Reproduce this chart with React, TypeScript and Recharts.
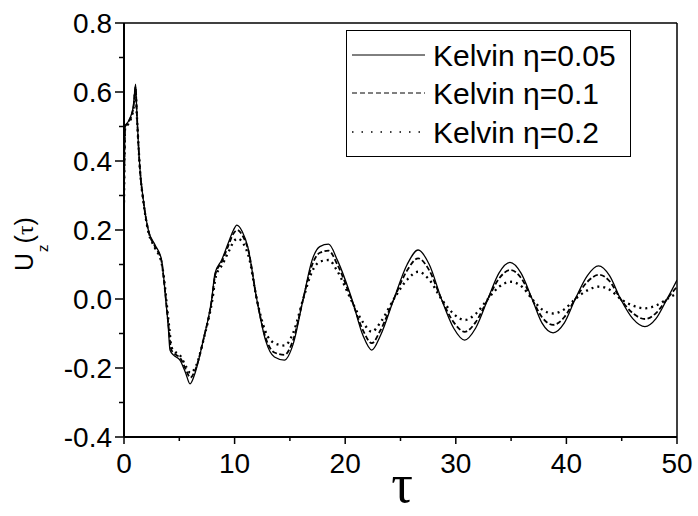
import React from 'react';
import { LineChart, Line, XAxis, YAxis, ReferenceLine, Legend } from 'recharts';

// ---- data ----
const tau005 = [0, 0.1, 0.4, 0.85, 1.05, 1.15, 1.3, 1.45, 1.75, 2.2, 2.8, 3.4, 3.55, 3.77, 4.0, 4.16, 4.46, 5.06, 5.58, 5.97, 6.42, 7.17, 7.93, 8.23, 8.83, 9.4, 9.9, 10.2, 10.7, 11.2, 12.0, 12.8, 13.6, 14.5, 15.3, 16.2, 17.0, 17.7, 18.5, 19.3, 20.6, 21.6, 22.4, 23.2, 24.4, 25.6, 26.6, 27.6, 28.7, 29.8, 30.8, 31.8, 32.9, 33.9, 34.9, 35.9, 36.9, 37.8, 38.8, 39.8, 40.8, 41.9, 42.9, 43.9, 44.9, 46.0, 47.1, 48.1, 49.1, 50];
const u005 = [0.28, 0.5, 0.515, 0.56, 0.623, 0.55, 0.45, 0.375, 0.287, 0.2, 0.157, 0.113, 0.075, 0.0, -0.08, -0.148, -0.162, -0.177, -0.215, -0.246, -0.215, -0.119, 0.0, 0.075, 0.113, 0.16, 0.2, 0.214, 0.195, 0.15, 0.0, -0.12, -0.168, -0.177, -0.13, 0.0, 0.112, 0.152, 0.159, 0.112, 0.0, -0.105, -0.148, -0.105, 0.0, 0.1, 0.142, 0.1, 0.0, -0.084, -0.119, -0.084, 0.0, 0.075, 0.106, 0.075, 0.0, -0.07, -0.098, -0.07, 0.0, 0.068, 0.096, 0.068, 0.0, -0.057, -0.08, -0.057, 0.0, 0.055];

const tau01 = [0, 0.1, 0.4, 0.85, 1.05, 1.15, 1.3, 1.45, 1.75, 2.2, 2.8, 3.4, 3.55, 3.8, 4.05, 4.25, 4.55, 5.1, 5.6, 6.0, 6.45, 7.2, 7.95, 8.25, 8.85, 9.4, 9.9, 10.25, 10.75, 11.25, 12.0, 12.8, 13.6, 14.5, 15.3, 16.2, 17.0, 17.7, 18.5, 19.3, 20.55, 21.6, 22.4, 23.2, 24.4, 25.6, 26.6, 27.6, 28.7, 29.8, 30.8, 31.8, 32.9, 33.9, 34.95, 35.95, 36.9, 37.8, 38.8, 39.8, 40.8, 41.9, 42.95, 43.95, 44.9, 46.0, 47.1, 48.1, 49.1, 50];
const u01 = [0.28, 0.5, 0.512, 0.555, 0.615, 0.545, 0.45, 0.372, 0.285, 0.198, 0.152, 0.108, 0.07, -0.005, -0.085, -0.145, -0.158, -0.172, -0.205, -0.228, -0.205, -0.115, 0.0, 0.07, 0.108, 0.152, 0.19, 0.2, 0.182, 0.14, 0.0, -0.112, -0.155, -0.162, -0.118, 0.0, 0.098, 0.134, 0.14, 0.099, 0.0, -0.09, -0.128, -0.09, 0.0, 0.083, 0.118, 0.083, 0.0, -0.067, -0.095, -0.067, 0.0, 0.059, 0.084, 0.059, 0.0, -0.053, -0.075, -0.053, 0.0, 0.05, 0.07, 0.05, 0.0, -0.041, -0.058, -0.041, 0.0, 0.036];

const tau02 = [0, 0.1, 0.4, 0.85, 1.05, 1.15, 1.3, 1.45, 1.75, 2.2, 2.8, 3.4, 3.6, 3.85, 4.1, 4.3, 4.6, 5.1, 5.6, 6.0, 6.5, 7.25, 8.0, 8.3, 8.9, 9.5, 10.0, 10.3, 10.8, 11.3, 12.0, 12.8, 13.6, 14.5, 15.3, 16.2, 17.0, 17.7, 18.5, 19.3, 20.5, 21.6, 22.4, 23.2, 24.4, 25.6, 26.6, 27.6, 28.7, 29.8, 30.8, 31.8, 32.9, 33.9, 35.0, 36.0, 36.9, 37.8, 38.8, 39.8, 40.8, 41.9, 43.0, 44.0, 44.9, 46.0, 47.1, 48.1, 49.1, 50];
const u02 = [0.28, 0.495, 0.508, 0.55, 0.6, 0.54, 0.45, 0.372, 0.283, 0.195, 0.148, 0.104, 0.065, -0.01, -0.085, -0.14, -0.152, -0.165, -0.195, -0.214, -0.195, -0.11, 0.0, 0.065, 0.1, 0.14, 0.17, 0.175, 0.16, 0.12, 0.0, -0.095, -0.128, -0.135, -0.098, 0.0, 0.079, 0.108, 0.113, 0.08, 0.0, -0.067, -0.095, -0.067, 0.0, 0.056, 0.079, 0.056, 0.0, -0.043, -0.061, -0.043, 0.0, 0.035, 0.05, 0.035, 0.0, -0.03, -0.042, -0.03, 0.0, 0.025, 0.036, 0.025, 0.0, -0.019, -0.027, -0.019, 0.0, 0.017];

const xTicks = [0, 5, 10, 15, 20, 25, 30, 35, 40, 45, 50];
const yTicks = [-0.4, -0.3, -0.2, -0.1, 0, 0.1, 0.2, 0.3, 0.4, 0.5, 0.6, 0.7, 0.8];
const seriesNames = ['Kelvin \u03b7=0.05', 'Kelvin \u03b7=0.1', 'Kelvin \u03b7=0.2'];

const zip = (t: number[], u: number[]) => t.map((x, i) => ({ t: x, u: u[i] }));
const data005 = zip(tau005, u005);
const data01 = zip(tau01, u01);
const data02 = zip(tau02, u02);

const FONT = '"Liberation Sans", Arial, Helvetica, sans-serif';
const SERIF = '"Liberation Serif", "Times New Roman", serif';

const YTick = (props: any) => {
  const { x, y, payload } = props;
  const v = payload.value as number;
  const major = Math.round(v * 10) % 2 === 0;
  return (
    <g>
      <line x1={x} x2={x - (major ? 9 : 5)} y1={y} y2={y} stroke="#000" strokeWidth={1.5} />
      {major && (
        <text x={x - 12} y={y} dy="0.36em" textAnchor="end" fontSize={28} fontFamily={FONT} fill="#000">
          {v.toFixed(1)}
        </text>
      )}
    </g>
  );
};

const XTick = (props: any) => {
  const { x, y, payload } = props;
  const v = payload.value as number;
  const major = v % 10 === 0;
  return (
    <g>
      <line x1={x} x2={x} y1={y} y2={y + (major ? 7 : 4)} stroke="#000" strokeWidth={1.5} />
      {major && (
        <text x={x} y={y + 16} dy="0.71em" textAnchor="middle" fontSize={28} fontFamily={FONT} fill="#000">
          {String(v)}
        </text>
      )}
    </g>
  );
};

const lineStyles = [
  { dash: undefined as string | undefined, width: 1.3, legendDash: undefined as string | undefined, legendWidth: 1 },
  { dash: '5 2.5', width: 1.8, legendDash: '5 3', legendWidth: 1 },
  { dash: '2 4', width: 2.3, legendDash: '1.5 8', legendWidth: 1.3 },
];

const LegendBox = () => {
  const rows = [25, 63, 102];
  return (
    <svg width={286} height={128} style={{ display: 'block' }}>
      <rect x={0.5} y={0.5} width={284} height={126} fill="#fff" stroke="#000" strokeWidth={1} />
      {seriesNames.map((name, i) => (
        <g key={name}>
          <line x1={6} x2={79} y1={rows[i]} y2={rows[i]} stroke="#000" strokeWidth={lineStyles[i].legendWidth} strokeDasharray={lineStyles[i].legendDash} />
          <text x={87} y={rows[i]} dy="0.36em" fontSize={30} fontFamily={FONT} fill="#000">{name}</text>
        </g>
      ))}
    </svg>
  );
};

const YLabel = () => (
  <text transform="translate(33,271) rotate(-90)" fontFamily={FONT} fill="#000">
    <tspan fontSize={25}>U</tspan>
    <tspan fontSize={15} dx={1} dy={15}>z</tspan>
    <tspan fontSize={25} dx={1} dy={-15}>(</tspan>
    <tspan fontSize={24} fontFamily={SERIF}>{'\u03c4'}</tspan>
    <tspan fontSize={25}>)</tspan>
  </text>
);

const XLabel = () => (
  <text x={402} y={502} textAnchor="middle" fontSize={54} fontFamily={SERIF} fill="#000">{'\u03c4'}</text>
);

export default function App() {
  return (
    <div style={{ position: 'absolute', left: 0, top: 0, width: 698, height: 516, background: '#fff' }}>
      <LineChart width={698} height={516} margin={{ top: 23, right: 21, left: 64, bottom: 39 }}>
        <XAxis
          dataKey="t"
          type="number"
          domain={[0, 50]}
          ticks={xTicks}
          interval={0}
          tickSize={0}
          tickMargin={0}
          tickLine={false}
          tick={<XTick />}
          axisLine={{ stroke: '#000', strokeWidth: 2 }}
          height={40}
          allowDataOverflow
          label={{ content: () => <XLabel /> } as any}
        />
        <YAxis
          type="number"
          domain={[-0.4, 0.8]}
          ticks={yTicks}
          interval={0}
          tickSize={0}
          tickMargin={0}
          tickLine={false}
          tick={<YTick />}
          axisLine={{ stroke: '#000', strokeWidth: 2 }}
          width={60}
          allowDataOverflow
          label={{ content: () => <YLabel /> } as any}
        />
        <ReferenceLine y={0.8} stroke="#000" strokeWidth={1.5} />
        <ReferenceLine x={50} stroke="#000" strokeWidth={1.5} />
        <Line data={data005} dataKey="u" name={seriesNames[0]} type="monotone" stroke="#000" strokeWidth={lineStyles[0].width} dot={false} isAnimationActive={false} />
        <Line data={data01} dataKey="u" name={seriesNames[1]} type="monotone" stroke="#000" strokeWidth={lineStyles[1].width} strokeDasharray={lineStyles[1].dash} dot={false} isAnimationActive={false} />
        <Line data={data02} dataKey="u" name={seriesNames[2]} type="monotone" stroke="#000" strokeWidth={lineStyles[2].width} strokeDasharray={lineStyles[2].dash} dot={false} isAnimationActive={false} />
        <Legend
          layout="vertical"
          align="center"
          verticalAlign="middle"
          content={() => <LegendBox />}
          wrapperStyle={{ position: 'absolute', left: 346, top: 30, width: 286, height: 128, margin: 0, padding: 0 }}
        />
      </LineChart>
    </div>
  );
}
